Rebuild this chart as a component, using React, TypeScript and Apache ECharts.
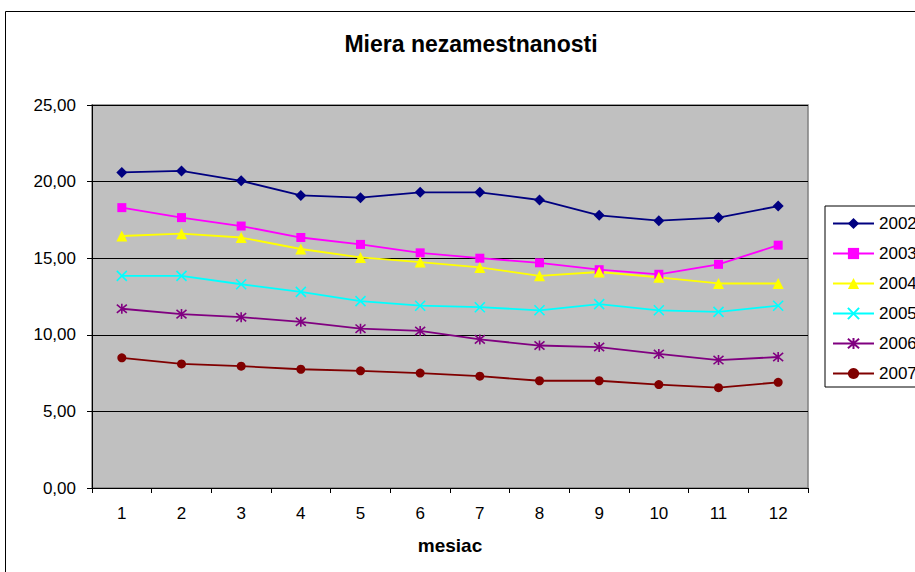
import React, { useEffect, useRef } from "react";
import * as echarts from "echarts";

const months = ["1", "2", "3", "4", "5", "6", "7", "8", "9", "10", "11", "12"];
const years = ["2002", "2003", "2004", "2005", "2006", "2007"];
const d2002 = [20.6, 20.7, 20.05, 19.1, 18.95, 19.3, 19.3, 18.8, 17.8, 17.45, 17.65, 18.4];
const d2003 = [18.3, 17.65, 17.1, 16.35, 15.9, 15.35, 15.0, 14.7, 14.25, 13.95, 14.6, 15.85];
const d2004 = [16.45, 16.6, 16.35, 15.6, 15.05, 14.75, 14.4, 13.85, 14.1, 13.75, 13.35, 13.35];
const d2005 = [13.85, 13.85, 13.3, 12.8, 12.2, 11.9, 11.8, 11.6, 12.0, 11.6, 11.5, 11.9];
const d2006 = [11.7, 11.35, 11.15, 10.85, 10.4, 10.25, 9.7, 9.3, 9.2, 8.75, 8.35, 8.55];
const d2007 = [8.5, 8.1, 7.95, 7.75, 7.65, 7.5, 7.3, 7.0, 7.0, 6.75, 6.55, 6.9];
const seriesData = [d2002, d2003, d2004, d2005, d2006, d2007];

const colors = ["#000080", "#FF00FF", "#FFFF00", "#00FFFF", "#800080", "#800000"];
const X_PATH = "path://M0,0L10,10M10,0L0,10";
const STAR_PATH = "path://M0,0L10,10M10,0L0,10M5,-1L5,11";
const symbols = ["diamond", "rect", "triangle", X_PATH, STAR_PATH, "circle"];
const sizes = [11, 9, 11, 10, 10, 9];

const FONT = "'Liberation Sans', Arial, sans-serif";

export default function App() {
  const ref = useRef<HTMLDivElement>(null);
  useEffect(() => {
    document.body.style.margin = "0";
    const chart = echarts.init(ref.current!, null, { renderer: "svg" });
    const isStroke = (i: number) => i === 3 || i === 4;
    chart.setOption({
      animation: false,
      backgroundColor: "#ffffff",
      graphic: [
        {
          type: "rect",
          shape: { x: 5.5, y: 11.5, width: 1200, height: 1200 },
          style: { fill: "none", stroke: "#000000", lineWidth: 1 },
          z: -1,
        },
        {
          type: "text",
          x: 471,
          y: 44,
          style: {
            text: "Miera nezamestnanosti",
            textAlign: "center",
            textVerticalAlign: "middle",
            font: `bold 23px ${FONT}`,
            fill: "#000000",
          },
        },
      ],
      grid: {
        left: 92,
        top: 105,
        width: 716,
        height: 383,
        show: true,
        backgroundColor: "#C0C0C0",
        borderColor: "#808080",
        borderWidth: 1.5,
      },
      legend: {
        orient: "vertical",
        left: 825,
        top: 206,
        data: years,
        itemWidth: 41,
        itemHeight: 14,
        itemGap: 13,
        padding: [9, 8, 5, 7],
        borderColor: "#000000",
        borderWidth: 1,
        backgroundColor: "#ffffff",
        textStyle: { fontSize: 17, fontFamily: FONT, color: "#000000" },
      },
      xAxis: {
        type: "category",
        data: months,
        boundaryGap: true,
        name: "mesiac",
        nameLocation: "middle",
        nameGap: 48,
        nameTextStyle: { fontSize: 19, fontWeight: "bold", fontFamily: FONT, color: "#000000" },
        axisLine: { lineStyle: { color: "#000000", width: 1 } },
        axisTick: { show: true, inside: false, length: 5, alignWithLabel: false, lineStyle: { color: "#000000" } },
        axisLabel: { fontSize: 17, fontFamily: FONT, color: "#000000", margin: 17, interval: 0 },
        splitLine: { show: false },
      },
      yAxis: {
        type: "value",
        min: 0,
        max: 25,
        interval: 5,
        axisLine: { show: true, lineStyle: { color: "#000000", width: 1 } },
        axisTick: { show: true, inside: false, length: 5, lineStyle: { color: "#000000" } },
        axisLabel: {
          fontSize: 17,
          fontFamily: FONT,
          color: "#000000",
          margin: 16,
          formatter: (v: number) => v.toFixed(2).replace(".", ","),
        },
        splitLine: { show: true, lineStyle: { color: "#000000", width: 1 } },
      },
      series: years.map((y, i) => ({
        name: y,
        type: "line",
        data: seriesData[i],
        symbol: symbols[i],
        symbolSize: sizes[i],
        showAllSymbol: true,
        lineStyle: { color: colors[i], width: 1.8 },
        itemStyle: isStroke(i)
          ? { color: colors[i], borderColor: colors[i], borderWidth: 1.6 }
          : { color: colors[i], borderWidth: 0 },
        emphasis: { disabled: true },
      })),
    });
    return () => chart.dispose();
  }, []);
  return <div ref={ref} style={{ width: 915, height: 572 }} />;
}
